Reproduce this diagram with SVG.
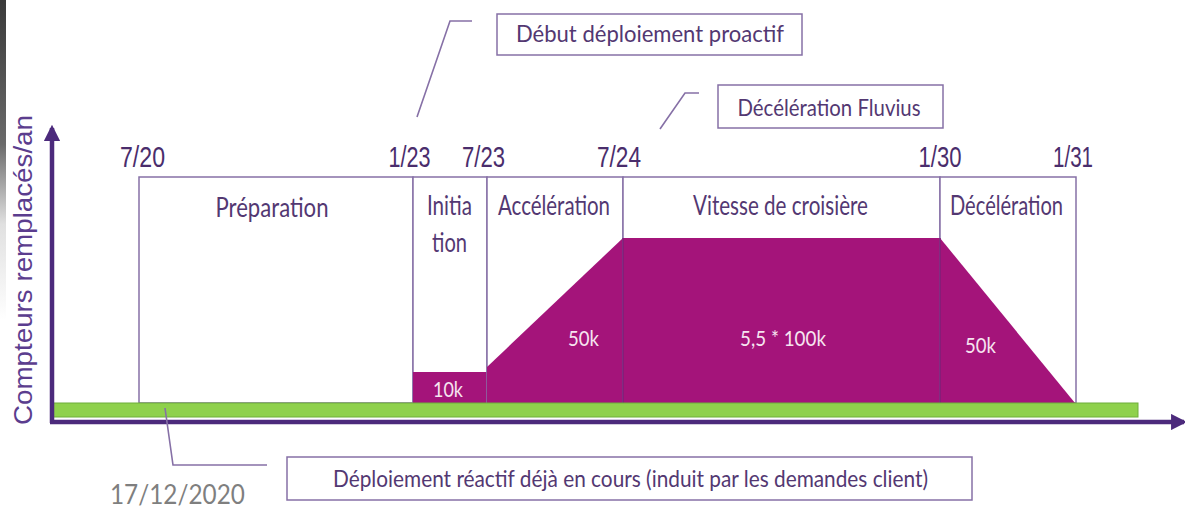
<svg xmlns="http://www.w3.org/2000/svg" width="1185" height="510" viewBox="0 0 1185 510">
  <defs>
    <style>
      .box { fill: #ffffff; stroke: #8670a6; stroke-width: 1.5; }
      .phase { font-family: Lato, "Open Sans", sans-serif; font-size: 26px; fill: #533872; text-anchor: middle; }
      .call { font-family: Lato, "Open Sans", sans-serif; font-size: 24px; fill: #533872; text-anchor: middle; }
      .qty { font-family: Lato, "Open Sans", sans-serif; font-size: 21px; fill: #f6e4f0; text-anchor: middle; }
      .date { font-family: "Liberation Sans", Arial, sans-serif; font-size: 30px; fill: #4a2d6c; text-anchor: middle; }
      .lead { fill: none; stroke: #8670a6; stroke-width: 1.6; }
      .axis { stroke: #4c2a7c; stroke-width: 4.5; fill: none; }
      .fill { fill: #a4147a; }
      .split { stroke: #7e1f78; stroke-width: 1.5; }
    </style>
    <linearGradient id="edge" x1="0" y1="0" x2="0" y2="1">
      <stop offset="0" stop-color="#3a3a3a"/>
      <stop offset="0.45" stop-color="#6a6a6a"/>
      <stop offset="0.7" stop-color="#e0e0e0"/>
      <stop offset="1" stop-color="#ffffff"/>
    </linearGradient>
    <filter id="soft" x="-5%" y="-200%" width="110%" height="500%">
      <feGaussianBlur stdDeviation="2"/>
    </filter>
    <marker id="tip" viewBox="0 0 10 10" refX="8" refY="5" markerWidth="3.6" markerHeight="3.6" orient="auto" markerUnits="strokeWidth">
      <path d="M0,0 L10,5 L0,10 z" fill="#4c2a7c"/>
    </marker>
  </defs>

  <rect width="1185" height="510" fill="#ffffff"/>
  <!-- dark strip along the left margin -->
  <rect x="0" y="0" width="6" height="320" fill="url(#edge)"/>

  <!-- y axis label -->
  <text transform="translate(32,270) rotate(-90)" font-family="'Liberation Sans', Arial, sans-serif" font-size="25" fill="#5b3d8e" text-anchor="middle" textLength="310" lengthAdjust="spacingAndGlyphs">Compteurs remplacés/an</text>

  <!-- phase boxes -->
  <g id="preparation">
    <rect class="box" x="139" y="177" width="274" height="226"/>
    <text class="phase" x="272" y="217" textLength="113" lengthAdjust="spacingAndGlyphs">Préparation</text>
  </g>
  <g id="initiation">
    <rect class="box" x="413" y="177" width="74" height="226"/>
    <rect class="fill" x="413" y="372" width="74" height="31"/>
    <text class="phase" x="449.5" y="215" textLength="45" lengthAdjust="spacingAndGlyphs">Initia</text>
    <text class="phase" x="449.5" y="252" textLength="35" lengthAdjust="spacingAndGlyphs">tion</text>
    <text class="qty" x="448" y="397" textLength="30" lengthAdjust="spacingAndGlyphs">10k</text>
  </g>
  <g id="acceleration">
    <rect class="box" x="487" y="177" width="136" height="226"/>
    <path class="fill" d="M487,367 L623,238 L623,403 L487,403 z"/>
    <text class="phase" x="554" y="215" textLength="112" lengthAdjust="spacingAndGlyphs">Accélération</text>
    <text class="qty" x="583.5" y="346" textLength="31" lengthAdjust="spacingAndGlyphs">50k</text>
  </g>
  <g id="croisiere">
    <rect class="box" x="623" y="177" width="317" height="226"/>
    <rect class="fill" x="623" y="238" width="317" height="165"/>
    <text class="phase" x="780.5" y="215" textLength="175" lengthAdjust="spacingAndGlyphs">Vitesse de croisière</text>
    <text class="qty" x="783" y="346" textLength="86" lengthAdjust="spacingAndGlyphs">5,5 * 100k</text>
  </g>
  <g id="deceleration">
    <rect class="box" x="940" y="177" width="136" height="226"/>
    <path class="fill" d="M940,238 L1075,403 L940,403 z"/>
    <text class="phase" x="1006.5" y="215" textLength="113" lengthAdjust="spacingAndGlyphs">Décélération</text>
    <text class="qty" x="980.5" y="353" textLength="31" lengthAdjust="spacingAndGlyphs">50k</text>
  </g>
  <line class="split" x1="623" y1="238" x2="623" y2="403"/>
  <line class="split" x1="940" y1="238" x2="940" y2="403"/>

  <!-- dates above the phase boundaries -->
  <g id="dates">
    <text class="date" x="142.5" y="167" textLength="45" lengthAdjust="spacingAndGlyphs">7/20</text>
    <text class="date" x="409.5" y="167" textLength="42" lengthAdjust="spacingAndGlyphs">1/23</text>
    <text class="date" x="483.5" y="167" textLength="43" lengthAdjust="spacingAndGlyphs">7/23</text>
    <text class="date" x="619" y="167" textLength="44" lengthAdjust="spacingAndGlyphs">7/24</text>
    <text class="date" x="940" y="167" textLength="43" lengthAdjust="spacingAndGlyphs">1/30</text>
    <text class="date" x="1073" y="167" textLength="40" lengthAdjust="spacingAndGlyphs">1/31</text>
  </g>

  <!-- reactive deployment baseline bar -->
  <g id="reactif-bar">
    <rect x="52" y="403" width="1086" height="14" fill="#8fd14c" stroke="#6fae3a" stroke-width="1"/>
  </g>

  <!-- callout boxes -->
  <g id="debut-proactif">
    <rect class="box" x="497" y="14" width="305" height="41"/>
    <text class="call" x="650" y="42" textLength="268" lengthAdjust="spacingAndGlyphs">Début déploiement proactif</text>
  </g>
  <g id="deceleration-fluvius">
    <rect class="box" x="718" y="85" width="225" height="43"/>
    <text class="call" x="829" y="116" textLength="183" lengthAdjust="spacingAndGlyphs">Décélération Fluvius</text>
  </g>
  <g id="reactif">
    <rect class="box" x="287" y="457" width="685" height="43"/>
    <text class="call" x="630.5" y="487" textLength="595" lengthAdjust="spacingAndGlyphs">Déploiement réactif déjà en cours (induit par les demandes client)</text>
  </g>

  <!-- axes and leader lines -->
  <g id="connectors">
    <line x1="54" y1="428" x2="1170" y2="428" stroke="#9a9a9a" stroke-width="4" filter="url(#soft)" opacity="0.8"/>
    <line class="axis" x1="52" y1="423" x2="52" y2="128" marker-end="url(#tip)"/>
    <line class="axis" x1="50" y1="422" x2="1184" y2="422" marker-end="url(#tip)"/>
    <polyline class="lead" points="417,117 450,21 472,21"/>
    <polyline class="lead" points="660,129 685,93 699,93"/>
    <polyline class="lead" points="165,408 173,465 267,465"/>
  </g>

  <text x="177.5" y="504" font-family="Lato, 'Open Sans', sans-serif" font-size="27" fill="#7f7f7f" text-anchor="middle" textLength="135" lengthAdjust="spacingAndGlyphs">17/12/2020</text>
</svg>
